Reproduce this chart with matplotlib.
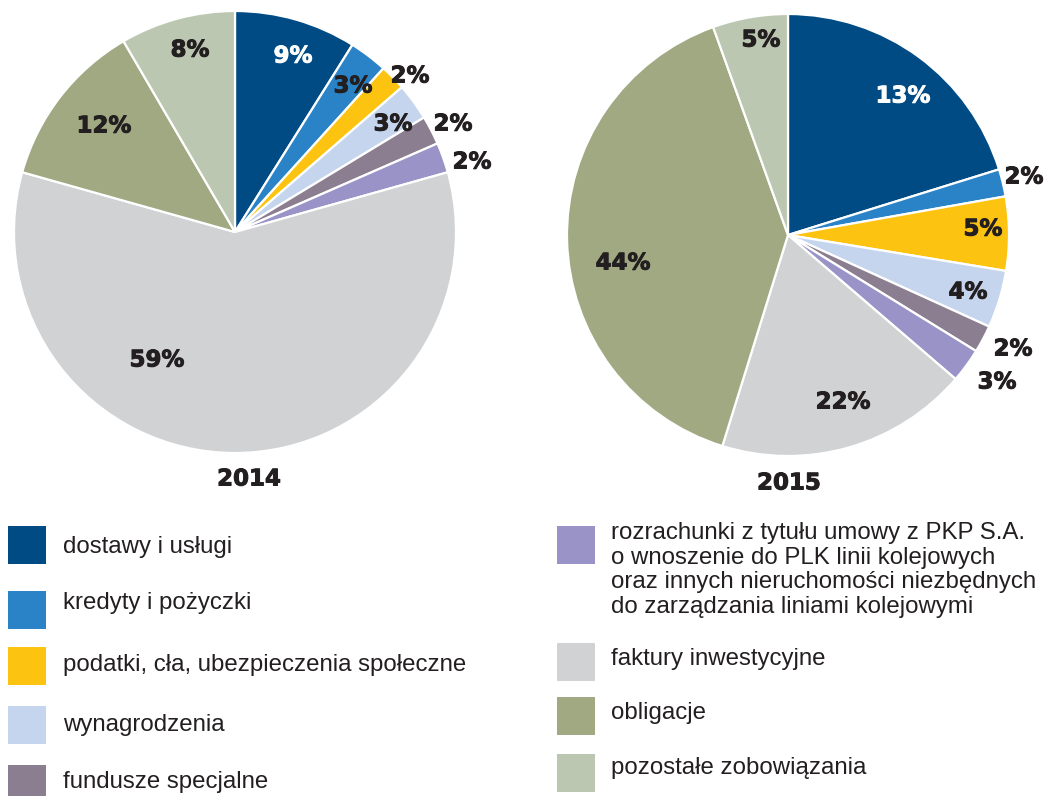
import matplotlib
matplotlib.use("Agg")
import matplotlib.pyplot as plt
from matplotlib.patches import Rectangle
import matplotlib.patheffects as pe

# ---------------- data ----------------
categories = [
    "dostawy i usługi",
    "kredyty i pożyczki",
    "podatki, cła, ubezpieczenia społeczne",
    "wynagrodzenia",
    "fundusze specjalne",
    "rozrachunki z tytułu umowy z PKP S.A.\no wnoszenie do PLK linii kolejowych\noraz innych nieruchomości niezbędnych\ndo zarządzania liniami kolejowymi",
    "faktury inwestycyjne",
    "obligacje",
    "pozostałe zobowiązania",
]
colors = ["#004b84", "#2a83c6", "#fdc311", "#c5d5ee", "#8b7e90",
          "#9a93c8", "#d1d2d4", "#a1a983", "#bbc7b0"]

years = ["2014", "2015"]
# wedge sizes as drawn in the picture
sizes_2014 = [8.9, 2.8, 1.9, 2.7, 2.1, 2.2, 58.6, 12.2, 8.4]
sizes_2015 = [20.2, 2.0, 5.4, 4.2, 2.0, 2.5, 18.5, 39.7, 5.5]
# printed percentage labels
labels_2014 = ["9%", "3%", "2%", "3%", "2%", "2%", "59%", "12%", "8%"]
labels_2015 = ["13%", "2%", "5%", "4%", "2%", "3%", "22%", "44%", "5%"]

# ---------------- layout (pixel coords, y from top) ----------------
W, H = 1046, 796
pie_centers = [(235, 232), (788, 235)]
pie_radius = [221, 221]
label_pos_2014 = [(293, 56), (353, 86), (410, 76), (393, 124), (453, 124),
                  (472, 162), (157, 360), (104, 126), (190, 50)]
label_pos_2015 = [(903, 96), (1024, 177), (983, 229), (968, 292), (1013, 349),
                  (997, 382), (843, 402), (623, 263), (761, 40)]
year_pos = [(249, 479), (789, 483)]
white_labels = [0]

legend_left_rows = [(8, 526, 547), (8, 591, 603), (8, 647, 665), (8, 706, 725), (8, 765, 782)]
legend_right_rows = [(557, 526, 570), (557, 643, 659), (557, 697, 713), (557, 754, 768)]

fig = plt.figure(figsize=(W / 100, H / 100), dpi=100)
ax = fig.add_axes([0, 0, 1, 1])

def fy(y):
    return H - y

label_font = dict(family="DejaVu Sans", fontweight="bold", fontsize=16.5,
                  ha="center", va="center")

def heavy(color):
    return [pe.withStroke(linewidth=0.7, foreground=color)]

for i, (sizes, labels, lpos) in enumerate([(sizes_2014, labels_2014, label_pos_2014),
                                            (sizes_2015, labels_2015, label_pos_2015)]):
    cx, cy = pie_centers[i]
    ax.pie(sizes, colors=colors, startangle=90, counterclock=False,
           center=(cx, fy(cy)), radius=pie_radius[i],
           wedgeprops=dict(edgecolor="white", linewidth=1.6))
    for j, (lab, (x, y)) in enumerate(zip(labels, lpos)):
        c = "white" if j in white_labels else "#231f20"
        ax.text(x, fy(y), lab, color=c, path_effects=heavy(c), **label_font)
    yx, yy = year_pos[i]
    ax.text(yx, fy(yy), years[i], color="#231f20", path_effects=heavy("#231f20"),
            **label_font)

ax.set_xlim(0, W)
ax.set_ylim(0, H)
ax.set_aspect("equal")
ax.axis("off")

legend_font = dict(family="Liberation Sans", fontsize=17.3, color="#231f20",
                   va="center", ha="left")
sw = 38
for k, (x, ytop, ytext) in enumerate(legend_left_rows):
    ax.add_patch(Rectangle((x, fy(ytop + sw)), sw, sw, facecolor=colors[k],
                           edgecolor="none", clip_on=False))
    ax.text(63, fy(ytext), categories[k], **legend_font)

for k, (x, ytop, ytext) in enumerate(legend_right_rows):
    idx = 5 + k
    ax.add_patch(Rectangle((x, fy(ytop + sw)), sw, sw, facecolor=colors[idx],
                           edgecolor="none", clip_on=False))
    ax.text(611, fy(ytext), categories[idx], linespacing=1.16, **legend_font)

fig.savefig("out.png", dpi=100)
